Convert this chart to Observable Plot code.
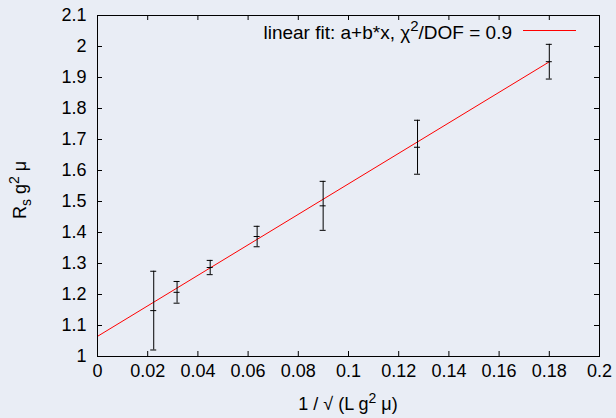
<!DOCTYPE html>
<html>
<head>
<meta charset="utf-8">
<script src="https://cdn.jsdelivr.net/npm/d3@7"></script>
<script src="https://cdn.jsdelivr.net/npm/@observablehq/plot@0.6"></script>
<style>
  html, body { margin: 0; padding: 0; background: #e9edf5; }
  svg { display: block; }
</style>
</head>
<body>
<div id="chart"></div>
<script>
// ---- data ----
const xValues = [0.0224, 0.0317, 0.0449, 0.0636, 0.0899, 0.1275, 0.180];
const yValues = [1.148, 1.207, 1.287, 1.387, 1.486, 1.675, 1.951];
const yErrors = [0.127, 0.035, 0.023, 0.033, 0.079, 0.087, 0.056];
const fitA = 1.065;
const fitB = 4.92;
const fitRange = [0, 0.18];
const xTicks = [0, 0.02, 0.04, 0.06, 0.08, 0.1, 0.12, 0.14, 0.16, 0.18, 0.2];
const xTickLabels = ["0", "0.02", "0.04", "0.06", "0.08", "0.1", "0.12", "0.14", "0.16", "0.18", "0.2"];
const yTicks = [1, 1.1, 1.2, 1.3, 1.4, 1.5, 1.6, 1.7, 1.8, 1.9, 2, 2.1];
const yTickLabels = ["1", "1.1", "1.2", "1.3", "1.4", "1.5", "1.6", "1.7", "1.8", "1.9", "2", "2.1"];
const legendLabel = ["linear fit: a+b*x, \u03c7", "2", "/DOF = 0.9"];

const points = xValues.map((x, i) => ({x, y: yValues[i], lo: yValues[i] - yErrors[i], hi: yValues[i] + yErrors[i]}));
const fitLine = fitRange.map(x => ({x, y: fitA + fitB * x}));

const W = 616, H = 418;
const mL = 97, mR = 17, mT = 15, mB = 62;
const fw = W - mL - mR, fh = H - mT - mB;
const tick = 5;
const FS = 18;

const chart = Plot.plot({
  width: W, height: H,
  marginLeft: mL, marginRight: mR, marginTop: mT, marginBottom: mB,
  style: {background: "#e9edf5", fontFamily: "'Liberation Sans', Arial, sans-serif", fontSize: FS + "px", color: "black"},
  x: {domain: [0, 0.2]},
  y: {domain: [1, 2.1]},
  marks: [
    Plot.axisX(xTicks, {tickSize: 0, tickPadding: 8, tickFormat: (d, i) => xTickLabels[i], label: null, fontSize: FS}),
    Plot.axisY(yTicks, {tickSize: 0, tickPadding: 11, tickFormat: (d, i) => yTickLabels[i], label: null, fontSize: FS}),
    // inward ticks, bottom & top
    Plot.ruleX(xTicks, {x: d => d, insetTop: fh - tick, stroke: "black"}),
    Plot.ruleX(xTicks, {x: d => d, insetBottom: fh - tick, stroke: "black"}),
    // inward ticks, left & right
    Plot.ruleY(yTicks, {y: d => d, insetRight: fw - tick, stroke: "black"}),
    Plot.ruleY(yTicks, {y: d => d, insetLeft: fw - tick, stroke: "black"}),
    // fit
    Plot.line(fitLine, {x: "x", y: "y", stroke: "#ff0000", strokeWidth: 1}),
    // error bars
    Plot.ruleX(points, {x: "x", y1: "lo", y2: "hi", stroke: "black", strokeWidth: 1}),
    Plot.ruleY(points, {y: "hi", x1: "x", x2: "x", insetLeft: -3, insetRight: -3, stroke: "black"}),
    Plot.ruleY(points, {y: "lo", x1: "x", x2: "x", insetLeft: -3, insetRight: -3, stroke: "black"}),
    Plot.ruleY(points, {y: "y", x1: "x", x2: "x", insetLeft: -3, insetRight: -3, stroke: "black"}),
    Plot.frame({stroke: "black", strokeWidth: 1})
  ]
});

const svg = d3.select(chart);
const font = "'Liberation Sans', Arial, sans-serif";

// x-axis title
const xt = svg.append("text")
  .attr("x", 348).attr("y", 410)
  .attr("text-anchor", "middle")
  .attr("font-family", font).attr("font-size", FS).attr("fill", "black");
xt.append("tspan").text("1 / \u221a (L g");
xt.append("tspan").attr("dy", -7).attr("font-size", 14).text("2");
xt.append("tspan").attr("dy", 7).text(" \u03bc)");

// y-axis title
const yt = svg.append("text")
  .attr("transform", "translate(26,190) rotate(-90)")
  .attr("text-anchor", "middle")
  .attr("font-family", font).attr("font-size", FS).attr("fill", "black");
yt.append("tspan").text("R");
yt.append("tspan").attr("dy", 5).attr("font-size", 14).text("s");
yt.append("tspan").attr("dy", -5).text(" g");
yt.append("tspan").attr("dy", -7).attr("font-size", 14).text("2");
yt.append("tspan").attr("dy", 7).text(" \u03bc");

// legend
const lg = svg.append("text")
  .attr("x", 512).attr("y", 39)
  .attr("text-anchor", "end")
  .attr("font-family", font).attr("font-size", 19).attr("fill", "black");
lg.append("tspan").text(legendLabel[0]);
lg.append("tspan").attr("dy", -8).attr("font-size", 15).text(legendLabel[1]);
lg.append("tspan").attr("dy", 8).text(legendLabel[2]);
svg.append("line")
  .attr("x1", 523).attr("x2", 576).attr("y1", 30.5).attr("y2", 30.5)
  .attr("stroke", "#ff0000").attr("stroke-width", 1);

document.getElementById("chart").appendChild(chart);
</script>
</body>
</html>
